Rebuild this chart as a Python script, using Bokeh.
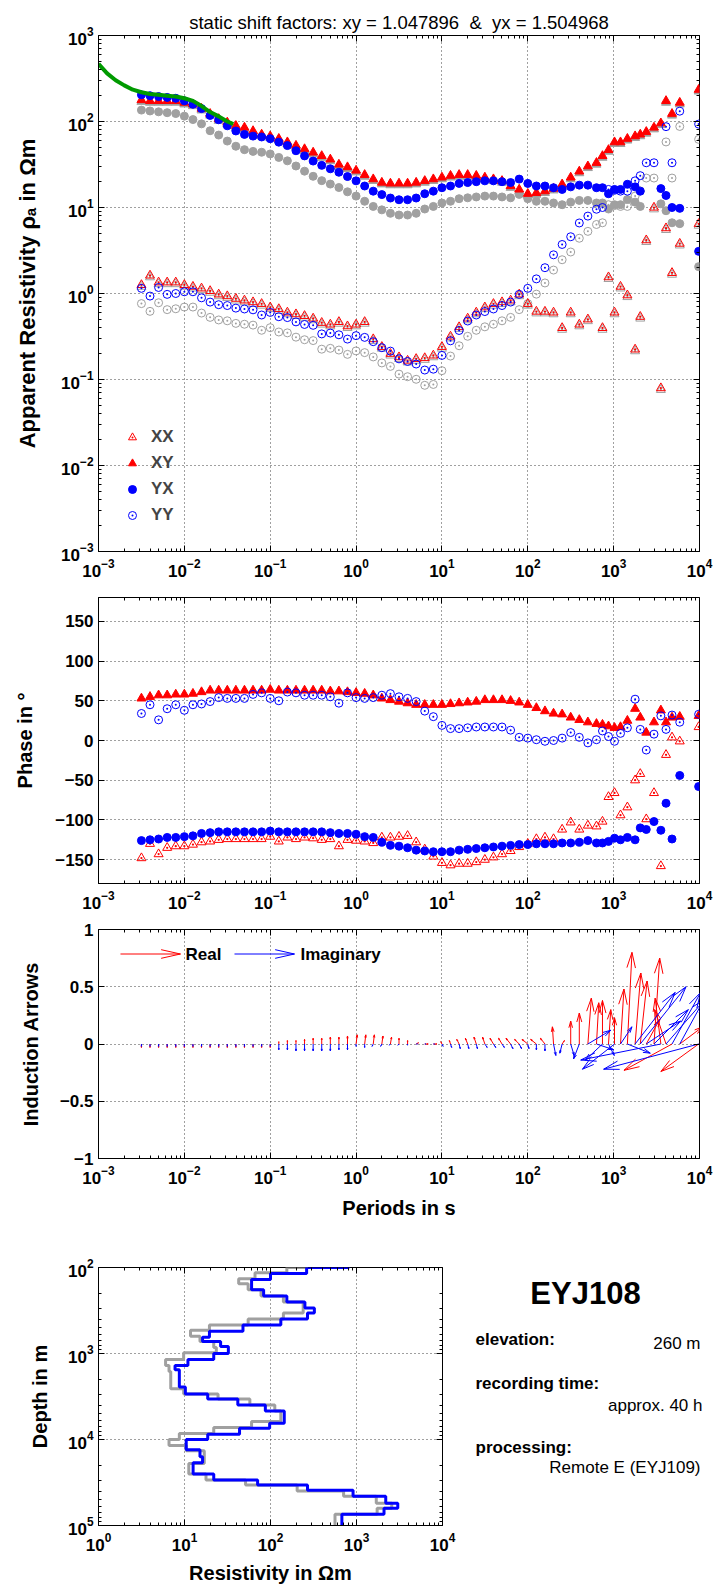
import math
import numpy as np
from bokeh.plotting import figure
from bokeh.layouts import column, row
from bokeh.models import Range1d, FixedTicker, LogAxis, LinearAxis, Legend, LegendItem
from bokeh.core.properties import value
from bokeh.embed import file_html
from bokeh.resources import INLINE

FONT = "Liberation Sans"
RED = "#ff0000"
BLUE = "#0000ff"
GREY = "#a0a0a0"
GREEN = "#009a00"

title_text = "static shift factors: xy = 1.047896 \u00a0&\u00a0 yx = 1.504968"
shift_xy = 1.047896
shift_yx = 1.504968

# ---------------- data (log10 of period in s) ----------------
log_period = [-2.5, -2.4, -2.3, -2.2, -2.1, -2.0, -1.9, -1.8, -1.7, -1.6,
              -1.5, -1.4, -1.3, -1.2, -1.1, -1.0, -0.9, -0.8, -0.7, -0.6,
              -0.5, -0.4, -0.3, -0.2, -0.1, 0.0, 0.1, 0.2, 0.3, 0.4,
              0.5, 0.6, 0.7, 0.8, 0.9, 1.0, 1.1, 1.2, 1.3, 1.4,
              1.5, 1.6, 1.7, 1.8, 1.9, 2.0, 2.1, 2.2, 2.3, 2.4,
              2.5, 2.6, 2.7, 2.8,
              2.87, 2.94, 3.01, 3.08, 3.16, 3.25, 3.31, 3.38, 3.47, 3.55, 3.61, 3.68, 3.77, 3.99]

nan = float("nan")

# apparent resistivity, log10(Ohm m)
log_rho_xx = [0.10, 0.21, 0.13, 0.13, 0.13, 0.10, 0.08, 0.06, 0.03, -0.01,
              -0.03, -0.06, -0.08, -0.10, -0.12, -0.16, -0.18, -0.22, -0.24, -0.26,
              -0.29, -0.34, -0.36, -0.33, -0.38, -0.36, -0.33, -0.53, -0.62, -0.70,
              -0.74, -0.78, -0.76, -0.75, -0.72, -0.62, -0.50, -0.39, -0.29, -0.22,
              -0.16, -0.12, -0.10, -0.08, -0.01, -0.12, -0.21, -0.21, -0.22, -0.40,
              -0.22, -0.36, -0.30, nan,
              -0.40, 0.19, -0.22, 0.08, -0.02, -0.65, -0.27, 0.62, 1.00, -1.10, 0.76, 0.24, 0.58, 0.81]
log_rho_xy = [2.25, 2.24, 2.24, 2.24, 2.24, 2.22, 2.20, 2.15, 2.09, 2.03,
              1.99, 1.95, 1.93, 1.89, 1.85, 1.83, 1.80, 1.76, 1.72, 1.68,
              1.64, 1.60, 1.56, 1.50, 1.47, 1.43, 1.38, 1.33, 1.29, 1.28,
              1.28, 1.28, 1.29, 1.31, 1.33, 1.35, 1.37, 1.38, 1.38, 1.37,
              1.35, 1.33, 1.31, 1.25, 1.21, 1.16, 1.17, 1.19, 1.22, 1.27,
              1.35, 1.42, 1.48, 1.52,
              1.60, 1.67, 1.76, 1.76, 1.80, 1.83, 1.85, 1.88, 1.93, 1.98, 2.24, 2.09, 2.22, 2.37]
log_rho_yx = [2.31, 2.30, 2.29, 2.28, 2.27, 2.24, 2.20, 2.15, 2.07, 2.02,
              1.95, 1.89, 1.85, 1.83, 1.82, 1.80, 1.76, 1.72, 1.66, 1.60,
              1.54, 1.49, 1.45, 1.41, 1.36, 1.31, 1.25, 1.19, 1.15, 1.11,
              1.09, 1.09, 1.11, 1.16, 1.19, 1.23, 1.25, 1.28, 1.29, 1.30,
              1.31, 1.31, 1.30, 1.29, 1.33, 1.28, 1.25, 1.25, 1.23, 1.21,
              1.24, 1.26, 1.26, 1.23,
              1.23, 1.16, 1.21, 1.21, 1.27, 1.24, 1.19, nan, nan, 1.22, 1.14, 1.00, 0.99, 0.49]
log_rho_yy = [0.06, -0.03, 0.07, -0.01, 0.00, 0.02, 0.02, -0.05, -0.10, -0.13,
              -0.14, -0.17, -0.18, -0.19, -0.25, -0.22, -0.27, -0.28, -0.33, -0.36,
              -0.37, -0.47, -0.46, -0.48, -0.53, -0.49, -0.51, -0.56, -0.63, -0.67,
              -0.76, -0.79, -0.82, -0.89, -0.88, -0.72, -0.55, -0.43, -0.32, -0.25,
              -0.21, -0.18, -0.14, -0.10, -0.01, 0.06, 0.17, 0.30, 0.45, 0.57,
              0.66, 0.82, 0.90, 0.98,
              1.00, 1.21, 1.20, 1.19, 1.19, 1.31, 1.37, 1.52, 1.52, nan, 1.94, 1.52, 2.12, 1.97]

# phases in degrees
phase_xx = [-148, -130, -143, -135, -133, -133, -131, -128, -127, -125,
            -124, -124, -124, -124, -124, -121, -127, -122, -124, -122,
            -123, -125, -124, -133, -125, -126, -127, -129, -122, -122,
            -121, -120, -128, -137, -146, -154, -157, -155, -155, -153,
            -150, -147, -143, -139, -134, -130, -124, -122, -124, -112,
            -103, -112, -107, -108,
            -102, -71, -66, -94, -84, -50, -42, -99, -66, -158, -18, 4, -1, 17]
phase_xy = [53, 55, 57, 57, 58, 58, 59, 61, 63, 63,
            63, 63, 63, 63, 63, 64, 63, 63, 63, 63,
            63, 63, 62, 62, 61, 60, 59, 57, 53, 51,
            49, 47, 45, 45, 45, 45, 46, 47, 48, 49,
            51, 51, 51, 50, 48, 45, 41, 37, 34, 33,
            29, 26, 23, 21,
            20, 18, 16, 17, 25, 40, 29, 10, 23, 38, 23, 29, 30, 31]
phase_yx = [-126, -125, -124, -122, -122, -121, -120, -117, -116, -115,
            -115, -115, -115, -115, -115, -114, -115, -115, -115, -115,
            -115, -115, -116, -117, -117, -118, -121, -122, -128, -132,
            -133, -135, -138, -139, -140, -140, -140, -138, -137, -136,
            -135, -134, -133, -132, -131, -131, -130, -130, -130, -129,
            -129, -128, -126, -129,
            -129, -127, -123, -125, -122, -125, -110, -112, -102, -113, -79, -124, -44, -58]
phase_yy = [34, 45, 26, 40, 45, 38, 45, 46, 49, 54,
            53, 53, 53, 58, 60, 53, 50, 61, 60, 57,
            57, 57, 55, 47, 60, 54, 53, 54, 57, 59,
            55, 53, 49, 37, 30, 19, 15, 15, 16, 17,
            17, 17, 17, 13, 4, 3, 1, -1, 0, 3,
            10, 4, -3, 1,
            12, 5, -1, 9, 16, 52, 14, -12, 8, 31, 14, 32, 23, 33]

# induction arrows (horizontal, vertical components, in units of the arrow axis)
real_u = [0.0] * 25 + [0.01, 0.01, 0.01, 0.01, 0.01, 0.0, 0.0, 0.02, 0.03, 0.03,
                       -0.01, -0.01, -0.02, -0.02, -0.02, -0.02, -0.03, -0.03, -0.04, -0.04,
                       -0.05, -0.05, -0.04, -0.01, 0.02, 0.0, 0.0, 0.03, 0.02,
                       0.0, 0.02, 0.0, 0.03, 0.04, 0.05, 0.06, 0.12, 0.05, -0.05, -0.10, -0.42, 0.20, -0.33]
real_v = [-0.03] * 16 + [0.02, 0.03, 0.03, 0.04, 0.05, 0.05, 0.06, 0.06, 0.07,
                         0.08, 0.08, 0.08, 0.07, 0.06, 0.05, 0.03, 0.01, 0.0, 0.0,
                         0.02, 0.03, 0.04, 0.05, 0.06, 0.06, 0.05, 0.05, 0.05, 0.04,
                         0.04, 0.04, 0.05, 0.15, 0.03, 0.20, 0.27, 0.40, 0.36,
                         0.38, 0.30, 0.23, 0.48, 0.80, 0.62, 0.55, 0.22, 0.75, 0.40, 0.30, -0.23, 0.15, -0.24]
imag_u = [0.0] * 25 + [0.0, 0.0, -0.01, -0.01, -0.01, -0.01, 0.0, 0.01, 0.01, 0.01,
                       0.01, 0.01, 0.01, 0.01, 0.01, 0.02, 0.02, 0.02, 0.02, 0.02,
                       0.01, 0.0, 0.0, 0.02, -0.02, 0.03, -0.05, 0.20, 0.15,
                       -0.15, 0.05, -0.28, 0.10, 0.20, 0.35, 0.40, 0.30, 0.30, -0.70, 0.35, 0.25, 0.30, -0.83]
imag_v = [-0.02] * 16 + [-0.05, -0.05, -0.06, -0.06, -0.06, -0.06, -0.06, -0.05, -0.05,
                         -0.02, -0.03, -0.02, -0.02, -0.01, -0.01, -0.01, 0.0, 0.0, 0.0,
                         -0.02, -0.03, -0.04, -0.04, -0.04, -0.03, -0.03, -0.03, -0.04, -0.04,
                         -0.04, -0.05, -0.06, -0.10, -0.08, -0.10, -0.13, 0.12, -0.05,
                         -0.14, -0.10, -0.22, 0.15, -0.08, 0.45, 0.50, 0.20, 0.30, -0.14, 0.40, 0.45, 0.55, -0.22]

# green model response curve
curve_log_period = [-3.0, -2.9, -2.8, -2.7, -2.6, -2.5, -2.4, -2.3, -2.2, -2.1, -2.0,
                    -1.9, -1.8, -1.7, -1.6, -1.5, -1.43]
curve_log_rho = [2.67, 2.56, 2.48, 2.42, 2.37, 2.34, 2.32, 2.31, 2.30, 2.29, 2.27,
                 2.24, 2.18, 2.11, 2.06, 2.00, 1.97]

# layered models: log10 depth of layer top (m) and log10 resistivity (Ohm m)
blue_top_log = [1.90, 2.00, 2.07, 2.14, 2.26, 2.33, 2.40, 2.47, 2.53, 2.60,
                2.67, 2.74, 2.81, 2.86, 2.92, 3.00, 3.07, 3.14, 3.19, 3.39,
                3.47, 3.53, 3.60, 3.67, 3.81, 3.87, 3.94, 4.00, 4.12, 4.20,
                4.27, 4.40, 4.47, 4.53, 4.59, 4.66, 4.74, 4.80, 4.87]
blue_rho_log = [2.91, 2.42, 2.00, 1.78, 1.92, 2.19, 2.40, 2.51, 2.43, 2.12,
                1.68, 1.29, 1.21, 1.42, 1.51, 1.34, 1.04, 0.89, 0.94, 1.01,
                1.27, 1.62, 1.94, 2.16, 1.99, 1.64, 1.27, 1.02, 1.18, 1.21,
                1.10, 1.34, 1.85, 2.43, 2.96, 3.34, 3.48, 3.32, 2.83]
grey_top_log = [1.90, 2.00, 2.06, 2.13, 2.19, 2.26, 2.33, 2.40, 2.47, 2.53,
                2.60, 2.67, 2.73, 2.80, 2.86, 2.93, 2.99, 3.07, 3.14, 3.21,
                3.41, 3.47, 3.53, 3.60, 3.67, 3.79, 3.86, 3.93, 4.00, 4.07,
                4.13, 4.28, 4.40, 4.47, 4.53, 4.60, 4.66, 4.74, 4.80, 4.87]
grey_rho_log = [2.42, 2.19, 1.82, 1.63, 1.74, 1.89, 2.15, 2.38, 2.38, 2.15,
                1.74, 1.29, 1.07, 1.18, 1.34, 1.37, 0.99, 0.78, 0.82, 0.84,
                0.99, 1.39, 1.76, 2.05, 2.12, 1.78, 1.34, 0.94, 0.82, 1.02,
                1.23, 1.05, 1.25, 1.71, 2.31, 2.85, 3.23, 3.41, 3.24, 2.75]
model_bottom_log = 5.2

site_name = "EYJ108"
info_labels = ["elevation:", "recording time:", "processing:"]
info_values = ["260 m", "approx. 40 h", "Remote E (EYJ109)"]

# ---------------- helpers ----------------
period = 10.0 ** np.array(log_period)


def decade_ticker(lo, hi):
    major = [10.0 ** e for e in range(lo, hi + 1)]
    minor = [m * 10.0 ** e for e in range(lo, hi) for m in range(2, 10)]
    return FixedTicker(ticks=major, minor_ticks=minor)


def style_axis(ax):
    ax.major_label_text_font = FONT
    ax.major_label_text_font_style = "bold"
    ax.major_label_text_font_size = "17px"
    ax.major_label_text_color = "black"
    ax.axis_label_text_font = FONT
    ax.axis_label_text_font_style = "bold"
    ax.axis_label_text_font_size = "20px"
    ax.axis_label_text_color = "black"
    ax.axis_line_color = "black"
    ax.major_tick_line_color = "black"
    ax.minor_tick_line_color = "black"
    ax.major_tick_in = 6
    ax.major_tick_out = 0
    ax.minor_tick_in = 3
    ax.minor_tick_out = 0


def mirror_axis(p, kind, side, ticker):
    ax = kind(ticker=ticker)
    style_axis(ax)
    ax.major_label_text_font_size = "1px"
    ax.major_label_text_alpha = 0.0
    ax.major_label_standoff = 0
    ax.axis_line_color = None
    p.add_layout(ax, side)


def base_fig(w, h, xr, yr, xtype, ytype, left, right, top, bottom):
    p = figure(width=w, height=h, x_range=xr, y_range=yr, x_axis_type=xtype, y_axis_type=ytype,
               output_backend="svg", toolbar_location=None,
               min_border_left=left, min_border_right=right, min_border_top=top,
               min_border_bottom=bottom)
    p.outline_line_color = "black"
    p.outline_line_width = 1
    p.background_fill_color = "white"
    p.border_fill_color = "white"
    for g in (p.xgrid[0], p.ygrid[0]):
        g.grid_line_color = "black"
        g.grid_line_dash = "1 3"
        g.grid_line_alpha = 0.75
    return p


def setup_axes(p, xticker, yticker, xkind, ykind, xlabel=None, ylabel=None,
               x_standoff=10, y_standoff=10, xover=None, yover=None):
    xa = p.xaxis[0]
    ya = p.yaxis[0]
    style_axis(xa)
    style_axis(ya)
    xa.ticker = xticker
    ya.ticker = yticker
    xa.major_label_standoff = 7
    ya.major_label_standoff = 5
    if xlabel:
        xa.axis_label = xlabel
        xa.axis_label_standoff = x_standoff
    if ylabel:
        ya.axis_label = ylabel
        ya.axis_label_standoff = y_standoff
    if xover:
        xa.major_label_overrides = xover
    if yover:
        ya.major_label_overrides = yover
    if ykind is LinearAxis:
        ya.minor_tick_line_color = None
    mirror_axis(p, xkind, "above", xticker)
    mirror_axis(p, ykind, "right", yticker)
    return xa, ya


K = 114.5 / 85.9  # decades of period per unit of the arrow axis (equal screen scale)


def arrow_segments(lt, y0s, us, vs, frac=0.3, hmax=0.14, ang=0.27):
    x0, y0, x1, y1 = [], [], [], []
    for t, yb, u, v in zip(lt, y0s, us, vs):
        L = math.hypot(u, v)
        if L == 0:
            continue
        xe = t + u * K
        ye = yb + v
        x0.append(t); y0.append(yb); x1.append(xe); y1.append(ye)
        hl = min(frac * L, hmax)
        a = math.atan2(v, u)
        for s in (1, -1):
            th = a + math.pi + s * ang
            x0.append(xe); y0.append(ye)
            x1.append(xe + hl * math.cos(th) * K); y1.append(ye + hl * math.sin(th))
    return (10.0 ** np.array(x0)).tolist(), y0, (10.0 ** np.array(x1)).tolist(), y1


# ---------------- panel 1: apparent resistivity ----------------
p1 = base_fig(716, 590, Range1d(1e-3, 1e4), Range1d(1e-3, 1e3), "log", "log", 98, 17, 35, 39)
_, ya1 = setup_axes(p1, decade_ticker(-3, 4), decade_ticker(-3, 3), LogAxis, LogAxis,
                    ylabel="Apparent Resistivity ρₐ in Ωm", y_standoff=18)
ya1.axis_label_text_font_size = "22px"
p1.title.text = title_text
p1.title.align = "center"
p1.title.text_font = FONT
p1.title.text_font_style = "normal"
p1.title.text_font_size = "18.5px"
p1.title.text_color = "black"
p1.title.standoff = 5

rho_xx = 10.0 ** np.array(log_rho_xx)
rho_xy = 10.0 ** np.array(log_rho_xy)
rho_yx = 10.0 ** np.array(log_rho_yx)
rho_yy = 10.0 ** np.array(log_rho_yy)

p1.scatter(period, rho_xx / shift_xy, marker="triangle_dot", size=9, fill_color=None, line_color=GREY)
p1.scatter(period, rho_xy / shift_xy, marker="triangle", size=9, fill_color=GREY, line_color=GREY)
p1.scatter(period, rho_yx / shift_yx, marker="circle", size=8, fill_color=GREY, line_color=GREY)
p1.scatter(period, rho_yy / shift_yx, marker="circle_dot", size=8, fill_color=None, line_color=GREY)

r_xx = p1.scatter(period, rho_xx, marker="triangle_dot", size=9, fill_color=None, line_color=RED)
r_xy = p1.scatter(period, rho_xy, marker="triangle", size=9, fill_color=RED, line_color=RED)
r_yx = p1.scatter(period, rho_yx, marker="circle", size=8, fill_color=BLUE, line_color=BLUE)
r_yy = p1.scatter(period, rho_yy, marker="circle_dot", size=8, fill_color=None, line_color=BLUE)

p1.line(10.0 ** np.array(curve_log_period), 10.0 ** np.array(curve_log_rho),
        line_color=GREEN, line_width=4)

legend = Legend(items=[LegendItem(label=value("XX"), renderers=[r_xx]),
                       LegendItem(label=value("XY"), renderers=[r_xy]),
                       LegendItem(label=value("YX"), renderers=[r_yx]),
                       LegendItem(label=value("YY"), renderers=[r_yy])],
                location=(24, 26), padding=0, margin=0, spacing=6,
                glyph_width=20, glyph_height=20, label_height=20, label_standoff=9,
                border_line_color=None, background_fill_alpha=0,
                label_text_font=FONT, label_text_font_style="bold", label_text_font_size="17px")
p1.add_layout(legend)

# ---------------- panel 2: phase ----------------
p2 = base_fig(716, 330, Range1d(1e-3, 1e4), Range1d(-180, 180), "log", "linear", 98, 17, 7, 37)
setup_axes(p2, decade_ticker(-3, 4), FixedTicker(ticks=[-150, -100, -50, 0, 50, 100, 150], minor_ticks=[]),
           LogAxis, LinearAxis, ylabel="Phase in °", y_standoff=16,
           yover={-150: "\u2212150", -100: "\u2212100", -50: "\u221250"})
p2.scatter(period, phase_xx, marker="triangle_dot", size=9, fill_color=None, line_color=RED)
p2.scatter(period, phase_xy, marker="triangle", size=9, fill_color=RED, line_color=RED)
p2.scatter(period, phase_yx, marker="circle", size=8, fill_color=BLUE, line_color=BLUE)
p2.scatter(period, phase_yy, marker="circle_dot", size=8, fill_color=None, line_color=BLUE)

# ---------------- panel 3: induction arrows ----------------
p3 = base_fig(716, 315, Range1d(1e-3, 1e4), Range1d(-1, 1), "log", "linear", 98, 17, 9, 77)
setup_axes(p3, decade_ticker(-3, 4), FixedTicker(ticks=[-1, -0.5, 0, 0.5, 1], minor_ticks=[]),
           LogAxis, LinearAxis, xlabel="Periods in s", ylabel="Induction Arrows",
           x_standoff=10, y_standoff=15,
           yover={-1: "\u22121", -0.5: "\u22120.5", 0: "0", 0.5: "0.5", 1: "1"})
zeros = [0.0] * len(log_period)
bx0, by0, bx1, by1 = arrow_segments(log_period, zeros, imag_u, imag_v)
rx0, ry0, rx1, ry1 = arrow_segments(log_period, zeros, real_u, real_v)
p3.segment(rx0, ry0, rx1, ry1, line_color=RED, line_width=1)
p3.segment(bx0, by0, bx1, by1, line_color=BLUE, line_width=1)

# legend arrows
leg_y = 0.786
lx0, ly0, lx1, ly1 = arrow_segments([-2.744], [leg_y], [0.524], [0.0], frac=0.33, hmax=0.2, ang=0.22)
p3.segment(lx0, ly0, lx1, ly1, line_color=RED, line_width=1)
lx0, ly0, lx1, ly1 = arrow_segments([-1.416], [leg_y], [0.524], [0.0], frac=0.33, hmax=0.2, ang=0.22)
p3.segment(lx0, ly0, lx1, ly1, line_color=BLUE, line_width=1)
p3.text(x=[10 ** -1.987, 10 ** -0.648], y=[leg_y, leg_y], text=["Real", "Imaginary"],
        text_font=value(FONT), text_font_style="bold", text_font_size="17px",
        text_align="left", text_baseline="middle", text_color="black")

# ---------------- panel 4: layered model ----------------
p4 = base_fig(460, 354, Range1d(1, 1e4), Range1d(1e5, 1e2), "log", "log", 98, 18, 32, 64)
setup_axes(p4, decade_ticker(0, 4), decade_ticker(2, 5), LogAxis, LogAxis,
           xlabel="Resistivity in Ωm", ylabel="Depth in m", x_standoff=8, y_standoff=14)


def stairs(tops, rhos, bottom):
    xs, ys = [], []
    edges = list(tops) + [bottom]
    for i, r in enumerate(rhos):
        xs += [10.0 ** r, 10.0 ** r]
        ys += [10.0 ** edges[i], 10.0 ** edges[i + 1]]
    return xs, ys


gx, gy = stairs(grey_top_log, grey_rho_log, model_bottom_log)
bx, by = stairs(blue_top_log, blue_rho_log, model_bottom_log)
p4.line(gx, gy, line_color=GREY, line_width=3)
p4.line(bx, by, line_color=BLUE, line_width=3)

# ---------------- info text (frame aligned with the model panel: page y 1267..1525) ----------------
pt = figure(width=256, height=354, x_range=Range1d(460, 716), y_range=Range1d(1525, 1267),
            x_axis_location=None, y_axis_location=None, output_backend="svg",
            toolbar_location=None, min_border=0)
pt.outline_line_color = None
pt.grid.visible = False
pt.text(x=[585], y=[1293], text=[site_name], text_font=value(FONT), text_font_style="bold",
        text_font_size="31px", text_align="center", text_baseline="middle", text_color="black")
pt.text(x=[475, 475, 475], y=[1339, 1383, 1447], text=info_labels, text_font=value(FONT),
        text_font_style="bold", text_font_size="17px", text_align="left",
        text_baseline="middle", text_color="black")
pt.text(x=[700, 702, 700], y=[1343, 1405, 1467], text=info_values, text_font=value(FONT),
        text_font_style="normal", text_font_size="17px", text_align="right",
        text_baseline="middle", text_color="black")

layout = column(p1, p2, p3, row(p4, pt))
open("out.html", "w").write(file_html(layout, INLINE))
